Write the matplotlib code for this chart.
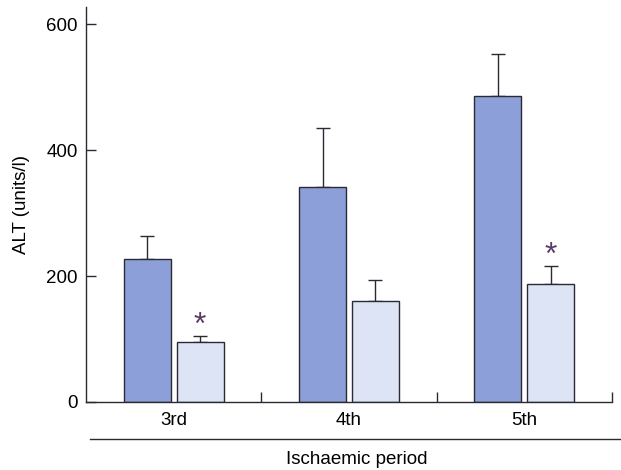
import numpy as np
import matplotlib.pyplot as plt
from matplotlib.lines import Line2D

plt.rcParams['font.family'] = ['Liberation Sans', 'DejaVu Sans']

periods = ['3rd', '4th', '5th']
control = [227, 341, 486]
control_err = [36, 94, 66]
treated = [95, 161, 188]
treated_err = [10, 32, 28]
significant = [True, False, True]

dark = '#8c9fd8'
light = '#dce4f5'
edge = '#2a2a33'
fs = 13.5

fig = plt.figure(figsize=(6.21, 4.70), dpi=100)
ax = fig.add_axes([86 / 621, 68 / 470, 526 / 621, 395 / 470])

x = np.arange(len(periods)) + 0.5
w = 0.268
off = 0.151

ax.bar(x - off, control, w, color=dark, edgecolor=edge, linewidth=1.0, zorder=2)
ax.bar(x + off, treated, w, color=light, edgecolor=edge, linewidth=1.0, zorder=2)
ax.errorbar(x - off, control, yerr=[np.zeros(3), control_err], fmt='none',
            ecolor=edge, elinewidth=1.0, capsize=4.7, capthick=1.0, zorder=1)
ax.errorbar(x + off, treated, yerr=[np.zeros(3), treated_err], fmt='none',
            ecolor=edge, elinewidth=1.0, capsize=4.7, capthick=1.0, zorder=1)

# significance stars
for xi, t, e, s in zip(x, treated, treated_err, significant):
    if s:
        ax.text(xi + off, t + e + 16, '*', ha='center', va='center',
                fontsize=23, color='#5b3b63')

ax.set_xlim(0, 3)
ax.set_ylim(0, 627)
ax.set_yticks([0, 200, 400, 600])
ax.set_xticks(x)
ax.set_xticklabels(periods)
ax.set_xticks([1, 2, 3], minor=True)
ax.tick_params(axis='x', which='major', length=0, pad=7, labelsize=fs)
ax.tick_params(axis='x', which='minor', direction='in', length=7, width=1.0, color=edge)
ax.tick_params(axis='y', direction='in', length=7, width=1.0, color=edge, labelsize=fs, pad=6)
ax.set_ylabel('ALT (units/l)', fontsize=fs, labelpad=12)

for side in ['top', 'right']:
    ax.spines[side].set_visible(False)
for side in ['left', 'bottom']:
    ax.spines[side].set_linewidth(1.0)
    ax.spines[side].set_color(edge)

# group line and axis title below
fig.add_artist(Line2D([90 / 621, 1.0], [1 - 439 / 470] * 2, color=edge, linewidth=1.0))
fig.text(357 / 621, 1 - 459 / 470, 'Ischaemic period', ha='center', va='center', fontsize=fs)

fig.savefig('out.png', dpi=100)
